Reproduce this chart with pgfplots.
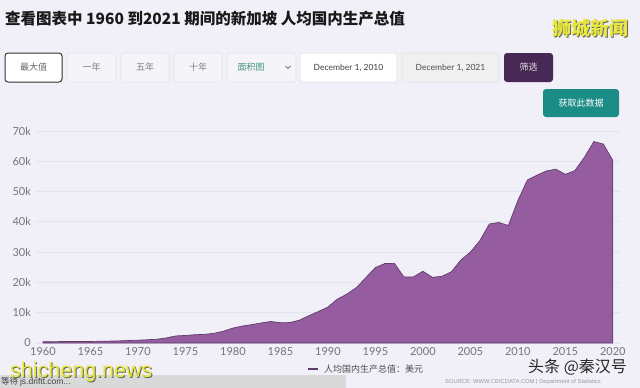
\documentclass[border=0pt]{standalone}
\usepackage{pgfplots}
\pgfplotsset{compat=1.18}
\usepackage{fontspec}
\setmainfont{Lato}
\newfontfamily\cjk{Noto Sans CJK SC}
\newfontfamily\lib{Liberation Sans}
\definecolor{bgcol}{RGB}{241,240,248}
\definecolor{areacol}{RGB}{150,92,160}
\definecolor{linecol}{RGB}{95,60,105}
\definecolor{gridcol}{RGB}{228,228,238}
\definecolor{tickcol}{RGB}{115,115,125}
\definecolor{btnfill}{RGB}{244,244,249}
\definecolor{btnline}{RGB}{226,226,234}
\definecolor{darkpurple}{RGB}{72,40,84}
\definecolor{teal}{RGB}{28,140,135}
\definecolor{wyellow}{RGB}{232,232,58}
\definecolor{greentxt}{RGB}{70,150,120}
\pgfplotstableread{
year gdp
1960 430
1961 449
1962 472
1963 511
1964 485
1965 516
1966 566
1967 626
1968 708
1969 812
1970 925
1971 1071
1972 1264
1973 1685
1974 2341
1975 2490
1976 2746
1977 2846
1978 3194
1979 3901
1980 4929
1981 5596
1982 6078
1983 6633
1984 7100
1985 6700
1986 6750
1987 7540
1988 9017
1989 10394
1990 11862
1991 14502
1992 16136
1993 18302
1994 21578
1995 24915
1996 26233
1997 26300
1998 21829
1999 21796
2000 23700
2001 21700
2002 22000
2003 23500
2004 27400
2005 30000
2006 33800
2007 39300
2008 39800
2009 38800
2010 47000
2011 53800
2012 55400
2013 56800
2014 57400
2015 55700
2016 56900
2017 61300
2018 66500
2019 65700
2020 60300
}\gdpdata
\begin{document}
\begin{tikzpicture}
\useasboundingbox (0,0) rectangle (640pt,-388pt);
\fill[bgcol] (0,0) rectangle (640pt,-388pt);
% title
\node[anchor=west, inner sep=0pt, font=\cjk\bfseries\fontsize{15.5}{16}\selectfont, text=black!90] at (5pt,-19pt) {查看图表中 1960 到2021 期间的新加坡 人均国内生产总值};
% watermark top right
\node[anchor=center, inner sep=0pt, font=\cjk\bfseries\fontsize{19}{20}\selectfont, text=black!60] at (591pt,-29.5pt) {狮城新闻};
\node[anchor=center, inner sep=0pt, font=\cjk\bfseries\fontsize{19}{20}\selectfont, text=wyellow] at (590pt,-28.5pt) {狮城新闻};
% buttons
\filldraw[fill=white, draw=black!80, line width=1pt, rounded corners=3pt] (5pt,-53pt) rectangle (62pt,-82pt);
\node[font=\cjk\fontsize{9}{10}\selectfont, text=black!60] at (33.5pt,-67.5pt) {最大值};
\filldraw[fill=btnfill, draw=btnline, line width=0.6pt, rounded corners=3pt] (67pt,-53pt) rectangle (116pt,-82pt);
\node[font=\cjk\fontsize{9}{10}\selectfont, text=black!50] at (91.5pt,-67.5pt) {一年};
\filldraw[fill=btnfill, draw=btnline, line width=0.6pt, rounded corners=3pt] (121pt,-53pt) rectangle (169pt,-82pt);
\node[font=\cjk\fontsize{9}{10}\selectfont, text=black!50] at (145pt,-67.5pt) {五年};
\filldraw[fill=btnfill, draw=btnline, line width=0.6pt, rounded corners=3pt] (174pt,-53pt) rectangle (222pt,-82pt);
\node[font=\cjk\fontsize{9}{10}\selectfont, text=black!50] at (198pt,-67.5pt) {十年};
\filldraw[fill=btnfill, draw=btnline, line width=0.6pt, rounded corners=3pt] (227pt,-53pt) rectangle (296pt,-82pt);
\node[font=\cjk\fontsize{9}{10}\selectfont, text=greentxt] at (251pt,-67.5pt) {面积图};
\draw[black!50, line width=0.8pt] (285.5pt,-66pt) -- (288pt,-68.5pt) -- (290.5pt,-66pt);
\filldraw[fill=white, draw=btnline, line width=0.6pt, rounded corners=3pt] (300pt,-53pt) rectangle (397pt,-82pt);
\node[font=\fontsize{8.5}{10}\selectfont, text=black!75] at (348.5pt,-67.5pt) {December 1, 2010};
\filldraw[fill=black!6, draw=btnline, line width=0.6pt, rounded corners=3pt] (402pt,-53pt) rectangle (499pt,-82pt);
\node[font=\fontsize{8.5}{10}\selectfont, text=black!70] at (450.5pt,-67.5pt) {December 1, 2021};
\fill[darkpurple, rounded corners=3pt] (504pt,-53pt) rectangle (553pt,-82pt);
\node[font=\cjk\fontsize{9}{10}\selectfont, text=white!85!darkpurple] at (528.5pt,-67.5pt) {筛选};
\fill[teal, rounded corners=3pt] (543pt,-89pt) rectangle (619pt,-117pt);
\node[font=\cjk\fontsize{9}{10}\selectfont, text=white] at (581pt,-103pt) {获取此数据};
% chart
\begin{axis}[
  at={(35.4pt,-343pt)}, anchor=south west,
  scale only axis, width=585pt, height=212pt,
  xmin=1959.2, xmax=2020.8, ymin=0, ymax=70000,
  axis line style={draw=none},
  major tick length=0pt,
  xtick={1960,1965,...,2020},
  ytick={0,10000,...,70000},
  scaled y ticks=false,
  yticklabels={0,10k,20k,30k,40k,50k,60k,70k},
  xticklabel={\pgfmathprintnumber[1000 sep={}]{\tick}},
  /pgf/number format/assume math mode=true,
  ticklabel style={font=\fontsize{11}{12}\selectfont, text=tickcol},
  yticklabel style={xshift=-1pt},
  xticklabel style={yshift=-1pt},
  ymajorgrids, grid style={gridcol, line width=0.8pt},
  clip=false,
]
\addplot[fill=areacol, draw=linecol, line width=0.7pt] table[x=year,y=gdp] {\gdpdata} \closedcycle;
\end{axis}
% legend and source
\draw[linecol, line width=2pt] (308pt,-369pt) -- (318pt,-369pt);
\node[anchor=west, inner sep=0pt, font=\cjk\fontsize{9}{10}\selectfont, text=black!70] at (324pt,-369pt) {人均国内生产总值：美元};
\node[anchor=west, inner sep=0pt, font=\lib\fontsize{5.8}{6}\selectfont, text=black!40] at (445pt,-382pt) {SOURCE: WWW.CEICDATA.COM \textbar\ Department of Statistics};
% watermark bottom right
\node[anchor=west, inner sep=0pt, font=\cjk\fontsize{16}{17}\selectfont, text=black!85] at (528pt,-367pt) {头条 @秦汉号};
% status bar
\fill[black!15] (0pt,-375pt) rectangle (346pt,-388pt);
\node[anchor=west, inner sep=0pt, font=\cjk\fontsize{8.5}{9}\selectfont, text=black!75] at (1pt,-382pt) {等待 {\lib js.driftt.com...}};
% watermark bottom left
\node[anchor=west, inner sep=0pt, font=\lib\fontsize{21.5}{22}\selectfont, text=black!60] at (11pt,-373pt) {shicheng.news};
\node[anchor=west, inner sep=0pt, font=\lib\fontsize{21.5}{22}\selectfont, text=wyellow] at (10pt,-372pt) {shicheng.news};
\end{tikzpicture}
\end{document}
